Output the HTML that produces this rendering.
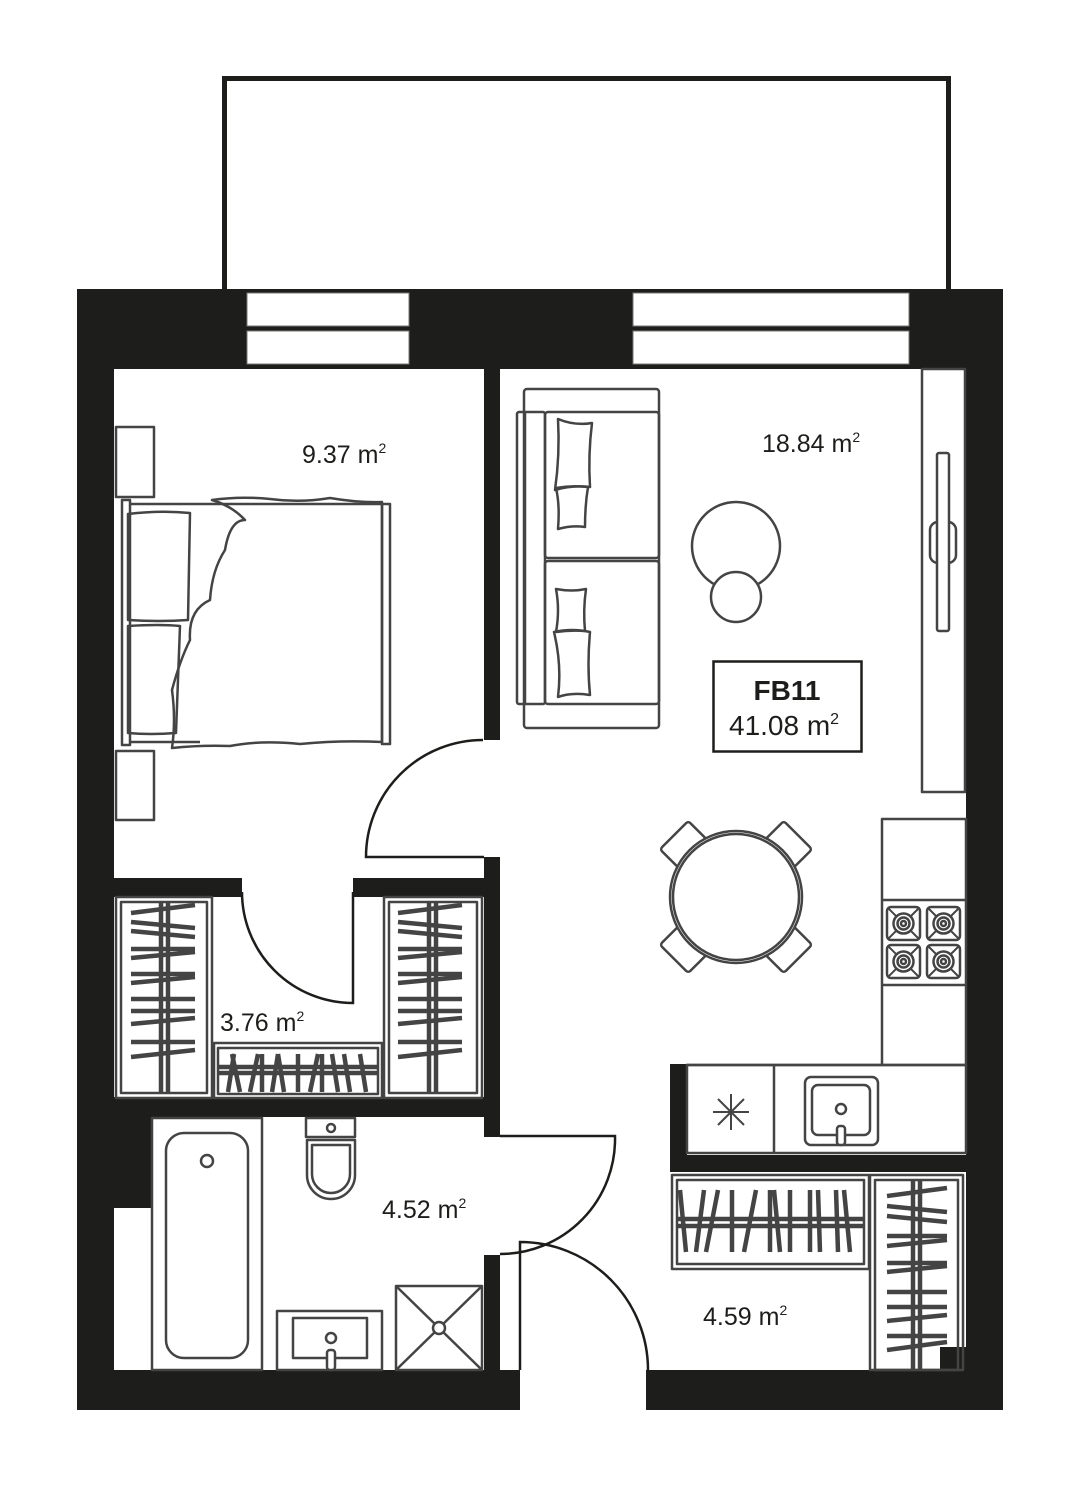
<!DOCTYPE html>
<html><head><meta charset="utf-8"><style>
html,body{margin:0;padding:0;background:#fff}
svg{display:block}
text{font-family:"Liberation Sans",sans-serif;fill:#1d1d1b}
</style></head><body>
<svg width="1080" height="1486" viewBox="0 0 1080 1486" xmlns="http://www.w3.org/2000/svg">
<rect width="1080" height="1486" fill="#fff"/>
<path d="M224.5 290 V78.5 H948.5 V290" fill="none" stroke="#1d1d1b" stroke-width="5"/>
<g fill="#1d1d1b">
<rect x="77" y="289" width="926" height="80"/>
<rect x="77" y="289" width="37" height="1121"/>
<rect x="966" y="289" width="37" height="1121"/>
<rect x="77" y="1370" width="443" height="40"/>
<rect x="646" y="1370" width="357" height="40"/>
<rect x="484" y="369" width="16" height="371"/>
<rect x="484" y="857" width="16" height="280"/>
<rect x="484" y="1255" width="16" height="115"/>
<rect x="114" y="878" width="128" height="19"/>
<rect x="353" y="878" width="131" height="19"/>
<rect x="114" y="1097" width="370" height="20"/>
<rect x="114" y="1117" width="38" height="91"/>
<rect x="670" y="1064" width="17" height="108"/>
<rect x="670" y="1155" width="296" height="17"/>
<rect x="940" y="1347" width="26" height="23"/>
</g>
<g fill="#fff" stroke="#777" stroke-width="1">
<rect x="247" y="293" width="162" height="33"/>
<rect x="247" y="331" width="162" height="33"/>
<rect x="633" y="293" width="276" height="33"/>
<rect x="633" y="331" width="276" height="33"/>
</g>
<g fill="none" stroke="#1d1d1b" stroke-width="2.5">
<path d="M483 740 A117 117 0 0 0 366 857 H484"/>
<path d="M242 892 A111 111 0 0 0 353 1003 V892"/>
<path d="M500 1136 H615 A115 115 0 0 1 500 1254"/>
<path d="M520 1370 V1242 A128 128 0 0 1 648 1370"/>
</g>
<g fill="none" stroke="#444" stroke-width="2.5" stroke-linejoin="round">
<rect x="116" y="427" width="38" height="70"/>
<rect x="116" y="751" width="38" height="69"/>
<rect x="122" y="500" width="8" height="245"/>
<path d="M130 504 H382 M130 742 H200"/>
<rect x="382" y="504" width="8" height="240"/>
<path d="M128 514 Q160 510 190 513 L188 620 Q160 622 128 620 Z"/>
<path d="M128 626 Q160 624 180 626 L176 733 Q150 735 128 733 Z"/>
<path d="M212 500 Q240 496 270 499 Q300 503 330 498 Q360 503 382 502 L382 742 Q340 740 300 744 Q260 740 230 746 Q200 745 172 748 Q176 720 172 690 Q180 660 190 640 Q188 610 210 600 Q212 570 225 550 Q230 520 245 520 Q232 506 212 500 Z"/>
<rect x="524" y="389" width="135" height="339" rx="3"/>
<rect x="517" y="412" width="28" height="292" rx="2"/>
<rect x="545" y="412" width="114" height="146" rx="3"/>
<rect x="545" y="561" width="114" height="143" rx="3"/>
<path d="M525 412 V704"/>
<path d="M558 419 Q575 426 592 423 Q588 455 590 487 Q572 485 555 490 Q560 455 558 419 Z"/>
<path d="M556 488 Q572 485 588 487 Q585 505 585 527 Q572 525 558 529 Q560 505 556 488 Z"/>
<path d="M556 589 Q572 592 586 589 Q583 610 585 631 Q570 630 556 632 Q560 610 556 589 Z"/>
<path d="M554 632 Q572 628 590 632 Q587 665 590 695 Q572 692 558 697 Q562 665 554 632 Z"/>
<circle cx="736" cy="546" r="44"/>
<circle cx="736" cy="597" r="25" fill="#fff"/>
<rect x="922" y="369" width="43" height="423"/>
<rect x="930" y="522" width="26" height="41" rx="8"/>
<rect x="937" y="453" width="12" height="178" rx="2" fill="#fff"/>
<g fill="#fff">
<rect x="-20" y="-14" width="40" height="28" rx="3" transform="translate(684 845) rotate(-45)"/>
<rect x="-20" y="-14" width="40" height="28" rx="3" transform="translate(788 845) rotate(45)"/>
<rect x="-20" y="-14" width="40" height="28" rx="3" transform="translate(684 949) rotate(45)"/>
<rect x="-20" y="-14" width="40" height="28" rx="3" transform="translate(788 949) rotate(-45)"/>
<circle cx="736" cy="897" r="66"/>
<circle cx="736" cy="897" r="63"/>
</g>
<rect x="882" y="819" width="84" height="246"/>
<path d="M882 900 H966 M882 985 H966 M686 1065 H882"/>
<rect x="687" y="1065" width="279" height="88"/>
<path d="M774 1065 V1153"/>
<path d="M731 1094 V1130 M713 1112 H749 M718 1099 L744 1125 M744 1099 L718 1125" stroke-width="2"/>
<rect x="805" y="1077" width="73" height="68" rx="6"/>
<rect x="812" y="1085" width="58" height="50" rx="6"/>
<circle cx="841" cy="1109" r="5"/>
<rect x="837" y="1126" width="8" height="19" rx="3" fill="#fff"/>
<g id="b">
<rect x="887" y="907" width="33" height="33" rx="4"/>
<path d="M888 908 L919 939 M919 908 L888 939" stroke-width="2"/>
<circle cx="903.5" cy="923.5" r="10" fill="#fff"/>
<circle cx="903.5" cy="923.5" r="6"/>
<circle cx="903.5" cy="923.5" r="2.5"/>
</g>
<use href="#b" x="40"/><use href="#b" y="38"/><use href="#b" x="40" y="38"/>
<rect x="152" y="1118" width="110" height="252"/>
<rect x="166" y="1133" width="82" height="225" rx="18"/>
<circle cx="207" cy="1161" r="6"/>
<rect x="306" y="1118" width="49" height="19"/>
<circle cx="331" cy="1128" r="4"/>
<path d="M307 1140 H355 V1175 A24 24 0 0 1 307 1175 Z"/>
<path d="M312 1145 H350 V1174 A19 19 0 0 1 312 1174 Z"/>
<rect x="277" y="1311" width="105" height="59"/>
<rect x="293" y="1318" width="74" height="40"/>
<circle cx="331" cy="1338" r="5"/>
<rect x="327" y="1350" width="8" height="20" rx="3" fill="#fff"/>
<rect x="396" y="1286" width="86" height="84"/>
<path d="M396 1286 L482 1370 M482 1286 L396 1370"/>
<circle cx="439" cy="1328" r="6" fill="#fff"/>
<rect x="116" y="897" width="96" height="201"/>
<rect x="121" y="902" width="86" height="191"/>
<rect x="384" y="897" width="98" height="201"/>
<rect x="389" y="902" width="88" height="191"/>
<rect x="214" y="1043" width="168" height="55"/>
<rect x="218" y="1048" width="160" height="46"/>
<rect x="672" y="1175" width="197" height="94"/>
<rect x="677" y="1180" width="187" height="84"/>
<rect x="870" y="1175" width="93" height="195"/>
<rect x="875" y="1180" width="83" height="190"/>
</g>
<g stroke="#444" stroke-width="4.5" fill="none">
<path d="M161 902 V1093 M168 902 V1093"/>
<path d="M131 913 L195 905 M131 922 L195 928 M131 931 L195 937 M131 949 L195 949 M131 958 L195 952 M131 974 L195 974 M131 983 L195 977 M131 999 L195 999 M131 1011 L195 1011 M131 1024 L195 1018 M131 1042 L195 1042 M131 1057 L195 1050"/>
<path d="M429 902 V1093 M436 902 V1093"/>
<path d="M398 913 L462 905 M398 922 L462 928 M398 931 L462 937 M398 949 L462 949 M398 958 L462 952 M398 974 L462 974 M398 983 L462 977 M398 999 L462 999 M398 1011 L462 1011 M398 1024 L462 1018 M398 1042 L462 1042 M398 1057 L462 1050"/>
<path d="M218 1067 H378 M218 1073 H378"/>
<path d="M228 1092 L234 1054 M240 1092 L232 1054 M250 1092 L258 1054 M262 1092 L262 1054 M272 1092 L278 1054 M284 1092 L278 1054 M298 1092 L298 1054 M310 1092 L318 1054 M322 1092 L322 1054 M338 1092 L332 1054 M350 1092 L344 1054 M366 1092 L360 1054"/>
<path d="M677 1219 H864 M677 1226 H864"/>
<path d="M686 1252 L680 1190 M696 1252 L704 1190 M706 1252 L718 1190 M732 1252 L732 1190 M744 1252 L756 1190 M770 1252 L770 1190 M780 1252 L774 1190 M790 1252 L790 1190 M810 1252 L810 1190 M820 1252 L818 1190 M838 1252 L836 1190 M850 1252 L844 1190"/>
<path d="M913 1180 V1370 M920 1180 V1370"/>
<path d="M887 1196 L947 1188 M887 1206 L947 1212 M887 1216 L947 1222 M887 1236 L947 1236 M887 1246 L947 1240 M887 1263 L947 1263 M887 1272 L947 1266 M887 1292 L947 1292 M887 1307 L947 1307 M887 1321 L947 1315 M887 1336 L947 1336 M887 1350 L947 1342"/>
</g>
<rect x="713.5" y="661.5" width="148" height="90" fill="none" stroke="#1d1d1b" stroke-width="2.5"/>
<text x="787" y="700" font-size="28" font-weight="bold" text-anchor="middle">FB11</text>
<text x="729" y="735" font-size="28">41.08 m<tspan font-size="16" dy="-11">2</tspan></text>
<g font-size="25">
<text x="302" y="463">9.37 m<tspan font-size="14" dy="-10">2</tspan></text>
<text x="762" y="452">18.84 m<tspan font-size="14" dy="-10">2</tspan></text>
<text x="220" y="1031">3.76 m<tspan font-size="14" dy="-10">2</tspan></text>
<text x="382" y="1218">4.52 m<tspan font-size="14" dy="-10">2</tspan></text>
<text x="703" y="1325">4.59 m<tspan font-size="14" dy="-10">2</tspan></text>
</g>
</svg>
</body></html>
